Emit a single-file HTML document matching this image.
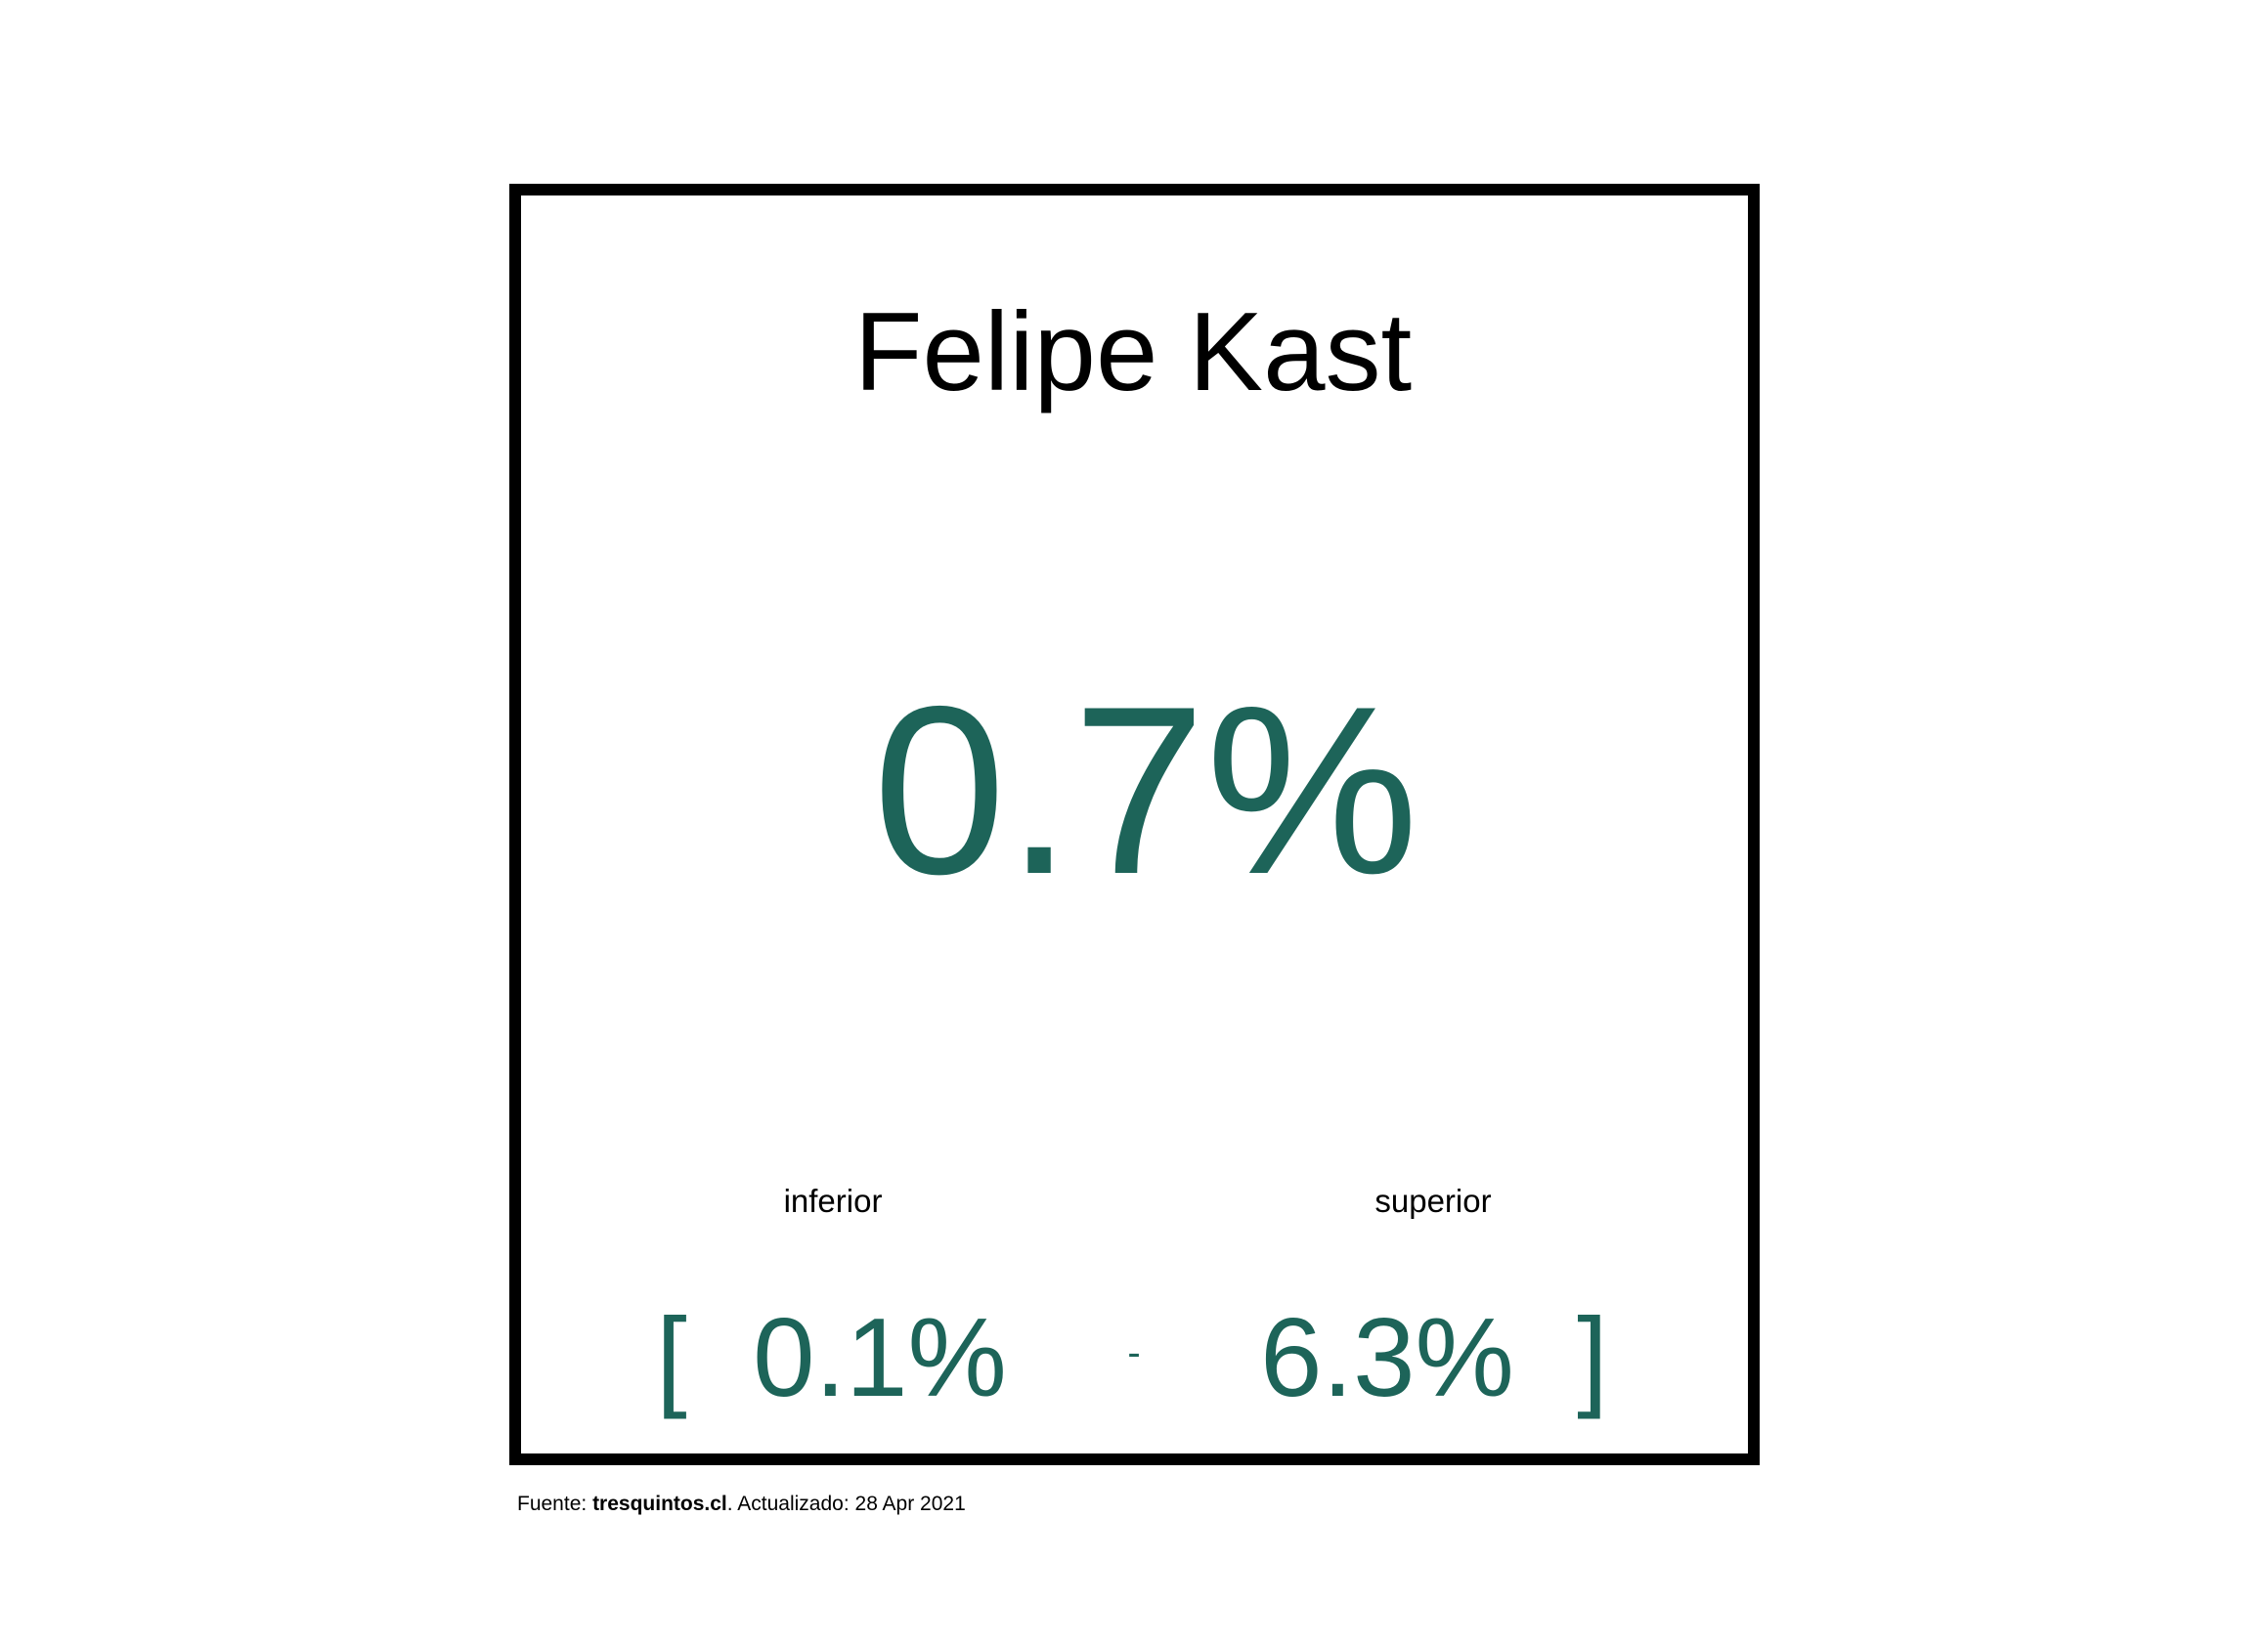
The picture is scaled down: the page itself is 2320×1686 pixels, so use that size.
<!DOCTYPE html>
<html><head><meta charset="utf-8"><style>
html,body{margin:0;padding:0;background:#fff;}
svg{display:block;font-family:"Liberation Sans",Arial,sans-serif;}
</style></head><body>
<svg width="2320" height="1686" viewBox="0 0 2320 1686">
<rect x="527" y="194" width="1267" height="1299" fill="none" stroke="#000" stroke-width="12"/>
<text x="1159" y="399" font-size="114" text-anchor="middle" fill="#000">Felipe Kast</text>
<text x="1172" y="893" font-size="245" text-anchor="middle" fill="#1d6459">0.7%</text>
<text x="852" y="1240" font-size="33" text-anchor="middle" fill="#000">inferior</text>
<text x="1466" y="1240" font-size="33" text-anchor="middle" fill="#000">superior</text>
<text x="687" y="1428" font-size="114" text-anchor="middle" fill="#1d6459">[</text>
<text x="900" y="1428" font-size="114" text-anchor="middle" fill="#1d6459">0.1%</text>
<text x="1160" y="1397" font-size="40" text-anchor="middle" fill="#1d6459">-</text>
<text x="1419" y="1428" font-size="114" text-anchor="middle" fill="#1d6459">6.3%</text>
<text x="1629" y="1428" font-size="114" text-anchor="middle" fill="#1d6459">]</text>
<text x="529" y="1545" font-size="21" fill="#000">Fuente: <tspan font-weight="bold">tresquintos.cl</tspan>. Actualizado: 28 Apr 2021</text>
</svg>
</body></html>
